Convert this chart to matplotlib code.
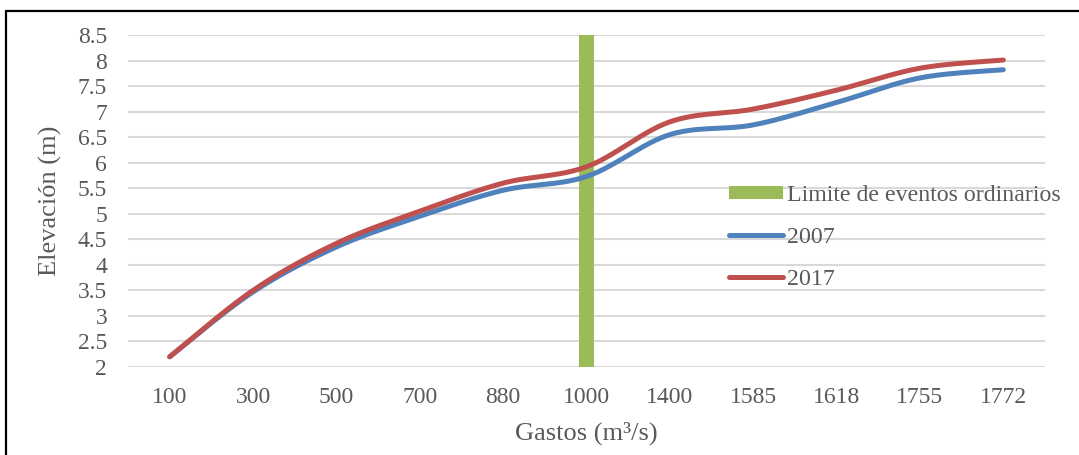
import numpy as np
import matplotlib
matplotlib.use("Agg")
import matplotlib.pyplot as plt
from matplotlib.patches import Rectangle
from matplotlib.lines import Line2D
from matplotlib.patches import Patch

categories = ["100", "300", "500", "700", "880", "1000", "1400", "1585", "1618", "1755", "1772"]
serie_2007 = [2.2, 3.47, 4.35, 4.95, 5.46, 5.73, 6.55, 6.74, 7.18, 7.66, 7.82]
serie_2017 = [2.2, 3.5, 4.42, 5.05, 5.6, 5.92, 6.8, 7.05, 7.42, 7.85, 8.01]
limite_cat = "1000"
limite_val = 8.5
yticks = [2, 2.5, 3, 3.5, 4, 4.5, 5, 5.5, 6, 6.5, 7, 7.5, 8, 8.5]

BLUE = "#4f81bd"
RED = "#c0504d"
GREEN = "#9bbb59"
GREY = "#595959"
FONT = "Liberation Serif"


def smooth(x, y, n=30):
    x = np.asarray(x, float)
    y = np.asarray(y, float)
    xs, ys = [], []
    m = len(x)
    for i in range(m - 1):
        p0 = np.array([x[max(i - 1, 0)], y[max(i - 1, 0)]])
        p1 = np.array([x[i], y[i]])
        p2 = np.array([x[i + 1], y[i + 1]])
        p3 = np.array([x[min(i + 2, m - 1)], y[min(i + 2, m - 1)]])
        c1 = p1 + (p2 - p0) / 6.0
        c2 = p2 - (p3 - p1) / 6.0
        t = np.linspace(0, 1, n)[:, None]
        b = ((1 - t) ** 3) * p1 + 3 * ((1 - t) ** 2) * t * c1 + 3 * (1 - t) * t ** 2 * c2 + t ** 3 * p2
        if i > 0:
            b = b[1:]
        xs.append(b[:, 0])
        ys.append(b[:, 1])
    return np.concatenate(xs), np.concatenate(ys)


fig = plt.figure(figsize=(10.79, 4.55), dpi=100)
W, H = 1079, 455
ax = fig.add_axes([128 / W, 1 - 367 / H, (1045 - 128) / W, (367 - 35) / H])

xpos = np.arange(len(categories))
ax.set_xlim(-0.5, len(categories) - 0.5)
ax.set_ylim(2, 8.5)
ax.set_yticks(yticks)
ax.set_yticklabels([("%g" % v) for v in yticks])
ax.set_xticks(xpos)
ax.set_xticklabels(categories)
ax.grid(axis="y", color="#d9d9d9", linewidth=1.5, zorder=0)
ax.set_axisbelow(True)
for s in ax.spines.values():
    s.set_visible(False)
ax.tick_params(length=0, colors=GREY, labelsize=17)
ax.tick_params(axis="y", pad=15)
ax.tick_params(axis="x", pad=14.5)
for lab in ax.get_xticklabels() + ax.get_yticklabels():
    lab.set_fontfamily(FONT)

bi = categories.index(limite_cat)
ax.bar([bi], [limite_val - 2], bottom=2, width=0.17, color=GREEN, zorder=2)

sx, sy = smooth(xpos, serie_2007)
ax.plot(sx, sy, color=BLUE, lw=3.6, solid_capstyle="round", zorder=3)
sx, sy = smooth(xpos, serie_2017)
ax.plot(sx, sy, color=RED, lw=3.6, solid_capstyle="round", zorder=4)

fig.text(50 / W, 1 - 201 / H, "Elevación (m)", rotation=90, ha="center", va="center",
         fontfamily=FONT, fontsize=19, color=GREY)
fig.text(586 / W, 1 - 433 / H, "Gastos (m³/s)", ha="center", va="center",
         fontfamily=FONT, fontsize=19, color=GREY)

handles = [Patch(facecolor=GREEN, edgecolor="none"),
           Line2D([0], [0], color=BLUE, lw=3.6, solid_capstyle="round"),
           Line2D([0], [0], color=RED, lw=3.6, solid_capstyle="round")]
labels = ["Limite de eventos ordinarios", "2007", "2017"]
leg = fig.legend(handles, labels, loc="upper left",
                 bbox_to_anchor=(722 / W, 1 - 178 / H),
                 frameon=False, handlelength=2.25, handleheight=0.45,
                 handletextpad=0.17, labelspacing=0.87, borderaxespad=0, borderpad=0.3,
                 prop={"family": FONT, "size": 17.2})
for t in leg.get_texts():
    t.set_color(GREY)

fig.add_artist(Rectangle((6 / W, -0.1), 1.2, 1 - 11 / H + 0.1, transform=fig.transFigure,
                         fill=False, edgecolor="black", linewidth=1.6, clip_on=False))

fig.savefig("out.png", dpi=100)
